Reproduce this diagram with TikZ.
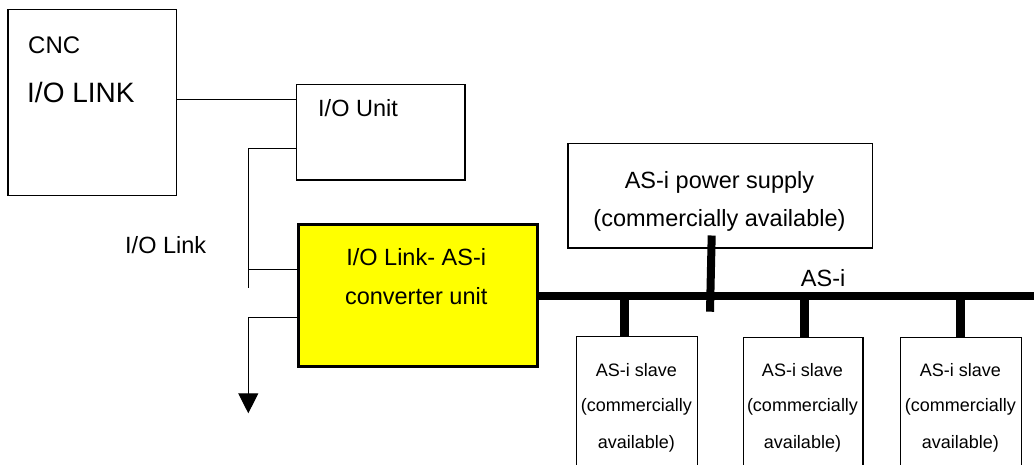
\documentclass[tikz,border=0pt]{standalone}
\usepackage{fontspec}
\setmainfont{Liberation Sans}
\usetikzlibrary{arrows.meta}
\definecolor{convyellow}{RGB}{255,255,0}
\begin{document}
\begin{tikzpicture}[x=1pt,y=-1pt,
  box/.style={draw, line width=1.2pt, inner sep=0pt, anchor=north west},
  txt/.style={inner sep=0pt, anchor=base},
  txtl/.style={inner sep=0pt, anchor=base west},
  big/.style={font=\fontsize{23.5}{23.5}\selectfont},
  small/.style={font=\fontsize{18}{18}\selectfont},
  wire/.style={line width=1.2pt},
  bus/.style={line width=8pt},
  drop/.style={line width=9pt},
  ]
\useasboundingbox (0,0) rectangle (1034,464);
\fill[white] (0,0) rectangle (1034,464);
\clip (0,0) rectangle (1034,464);

% boxes
\node[box, minimum width=168.7pt, minimum height=186pt] (cnc) at (7.3,9) {};
\node[box, minimum width=168.3pt, minimum height=95.3pt] (iou) at (296,84) {};
\node[box, line width=3pt, fill=convyellow, minimum width=238.5pt, minimum height=141.5pt] (conv) at (297,223) {};
\node[box, minimum width=304.7pt, minimum height=104.3pt] (pws) at (567.3,143) {};
\node[box, minimum width=120.7pt, minimum height=160pt] (s1) at (576,336) {};
\node[box, minimum width=119.6pt, minimum height=160pt] (s2) at (742.7,337) {};
\node[box, minimum width=120.7pt, minimum height=160pt] (s3) at (900,337) {};

% texts
\node[txtl, font=\fontsize{24}{24}\selectfont] (tcnc) at (28,53) {CNC};
\node[txtl, font=\fontsize{28}{28}\selectfont] (tlink) at (27,102) {I/O LINK};
\node[txtl, big] (tiou) at (318,116.7) {I/O Unit};
\node[txtl, big] (tiol) at (125,253) {I/O Link};
\node[txt, big] (tconv1) at (416.2,265) {I/O Link- AS-i};
\node[txt, big] (tconv2) at (416.2,304) {converter unit};
\node[txt, big] (tpws1) at (719.5,188.3) {AS-i power supply};
\node[txt, big] (tpws2) at (719.5,226.7) {(commercially available)};
\node[txtl, big] (tasi) at (800.7,286.7) {AS-i};
\foreach \n/\cx in {1/636.3, 2/802.5, 3/960.3}{
  \node[txt, small] (ts\n a) at (\cx,376.7) {AS-i slave};
  \node[txt, small] (ts\n b) at (\cx,411.7) {(commercially};
  \node[txt, small] (ts\n c) at (\cx,448) {available)};
}

% helper coordinates
\coordinate (ylink) at (0,99.3);
\coordinate (yiou) at (0,148.3);
\coordinate (ybr) at (0,269.3);
\coordinate (yout) at (0,317.7);
\coordinate (ybus) at (0,296);
\coordinate (trunk) at (248.3,288.3);
\coordinate (arrowend) at (248.3,413.3);
\coordinate (busend) at (1045,296);
\coordinate (t1) at (624.5,296);
\coordinate (t2) at (804,296);
\coordinate (t3) at (960.5,296);
\coordinate (ptop) at (711.7,235.5);
\coordinate (pbot) at (710,311.7);

% connectors
\draw[wire] (cnc.east |- ylink) -- (iou.west |- ylink);
\draw[wire] (iou.west |- yiou) -| (trunk);
\draw[wire] (conv.west |- ybr) -- (trunk |- ybr);
\draw[wire, -{Triangle[width=20pt,length=20pt]}] (conv.west |- yout) -| (arrowend);
\draw[bus] (conv.east |- ybus) -- (busend);
\draw[drop] (t1) -- (t1 |- s1.north);
\draw[drop] (t2) -- (t2 |- s2.north);
\draw[drop] (t3) -- (t3 |- s3.north);
\draw[bus] (ptop) -- (pbot);
\end{tikzpicture}
\end{document}
